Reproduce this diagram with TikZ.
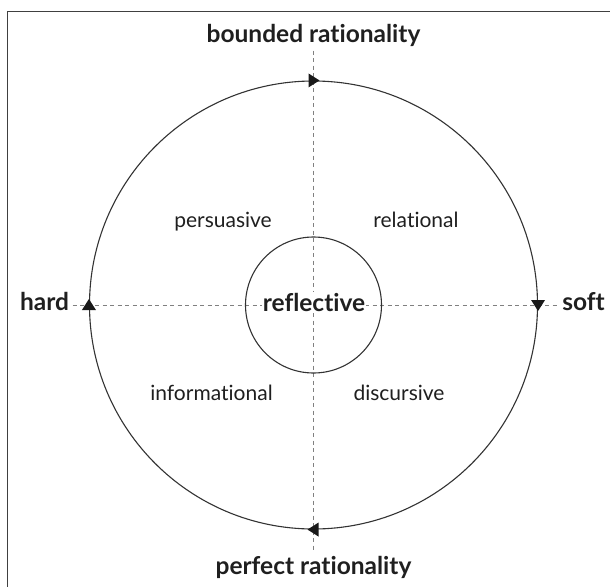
\documentclass[tikz,border=0pt]{standalone}
\usepackage{fontspec}
\setmainfont[Ligatures={NoCommon}]{Lato}
\begin{document}
\begin{tikzpicture}[x=1pt,y=-1pt,
  every node/.style={text=black!88},
  title/.style={font=\fontsize{24.5}{28}\selectfont\bfseries, anchor=base},
  quadrant/.style={font=\fontsize{21}{25}\selectfont, anchor=base},
  axis/.style={draw=black!50, line width=0.8pt, dash pattern=on 4pt off 3.5pt},
  ring/.style={draw=black!80, line width=1.1pt},
  tip/.style={fill=black!90},
  frame/.style={draw=black!75, line width=1.6pt}]
\useasboundingbox (0,0) rectangle (610,586);
% outer frame (only the top and left edges fall inside the picture)
\draw[frame] (7.5,600) -- (7.5,11.5) -- (620,11.5);

\coordinate (c) at (313.5,305);

% pole labels
\node[title] (top) at (313.5,43) {bounded rationality};
\node[title] (bottom) at (313.5,574) {perfect rationality};
\node[title] (hard) at (44.5,310) {hard};
\node[title] (soft) at (583.5,310) {soft};

% dashed axes
\draw[axis] (top.south -| c) -- (bottom.north -| c);
\draw[axis] (hard.east |- c) -- (soft.west |- c);

% circles
\node[ring, circle, minimum size=448pt, inner sep=0pt] (outer) at (c) {};
\node[ring, circle, minimum size=136pt, inner sep=0pt] (inner) at (c) {};

% clockwise arrowheads on the outer circle
\fill[tip] ([shift={(6,0)}]outer.north) -- ([shift={(-5,-7)}]outer.north) -- ([shift={(-5,7)}]outer.north) -- cycle;
\fill[tip] ([shift={(0,6)}]outer.east) -- ([shift={(-7,-5)}]outer.east) -- ([shift={(7,-5)}]outer.east) -- cycle;
\fill[tip] ([shift={(-6,0)}]outer.south) -- ([shift={(5,-7)}]outer.south) -- ([shift={(5,7)}]outer.south) -- cycle;
\fill[tip] ([shift={(0,-6)}]outer.west) -- ([shift={(-7,5)}]outer.west) -- ([shift={(7,5)}]outer.west) -- cycle;

% quadrant labels
\node[quadrant] (persuasive) at (223,227) {persuasive};
\node[quadrant] (relational) at (416,227) {relational};
\node[quadrant] (informational) at (211.5,400) {informational};
\node[quadrant] (discursive) at (399,400) {discursive};

% centre label
\node[title, fill=white, inner sep=1pt] (reflective) at (314,311) {reflective};
\end{tikzpicture}
\end{document}
